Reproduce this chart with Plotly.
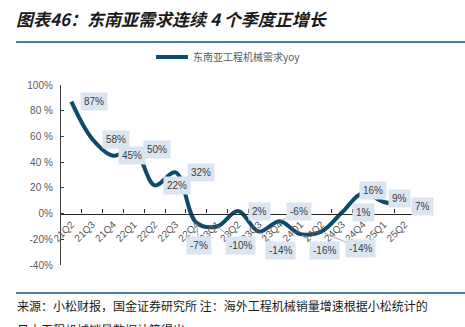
import plotly.graph_objects as go

quarters = ["21Q2", "21Q3", "21Q4", "22Q1", "22Q2", "22Q3", "22Q4", "23Q1", "23Q2",
            "23Q3", "23Q4", "24Q1", "24Q2", "24Q3", "24Q4", "25Q1", "25Q2"]
yoy = [87, 58, 45, 50, 22, 32, -7, -10, 2, -14, -6, -16, -14, 1, 16, 9, 7]
series_name = "东南亚工程机械需求yoy"
y_ticks = [-40, -20, 0, 20, 40, 60, 80, 100]
y_tick_labels = ["-40%", "-20%", "0%", "20 %", "40 %", "60 %", "80 %", "100%"]

# label offsets in pixels (dx right, dy down) and whether a leader line is drawn
label_dx = [23, 24, 19, 23, 22, 25, 3, 23, 21, 22, 19, 24, 39, 21, 10, 16, 18]
label_dy = [0, 0, 0, 0, 0, 0, 23, 19, 0, 19, -10, 16, 17, 0, -3, -4, 2]
leader = [False, False, False, False, False, False, True, True, False, True, True,
          True, True, False, False, False, False]

W, H = 465, 327
L, R, T, B = 61, 50, 85, 62
pw, ph = W - L - R, H - T - B


def px(x):
    return (x - L) / pw


def py(y):
    return (H - B - y) / ph


fig = go.Figure()
fig.add_trace(go.Scatter(
    x=quarters, y=yoy, mode="lines", name=series_name,
    line=dict(color="#0d4a6c", width=4, shape="spline", smoothing=1.0),
))

annotations = []
for q, v, dx, dy, ld in zip(quarters, yoy, label_dx, label_dy, leader):
    common = dict(x=q, y=v, xref="x", yref="y", text=f"{v}%",
                  font=dict(family="Liberation Sans, Arial", size=10, color="#404040"),
                  bgcolor="#dbe5f1", borderpad=3)
    if ld:
        annotations.append(dict(**common, showarrow=True, ax=dx, ay=dy, arrowhead=0,
                                arrowwidth=1, arrowcolor="#a6a6a6", standoff=2))
    else:
        annotations.append(dict(**common, showarrow=False, xshift=dx, yshift=-dy))

annotations.append(dict(
    x=px(14), y=py(18), xref="paper", yref="paper", xanchor="left", yanchor="middle",
    text="<b><i>图表46：东南亚需求连续 4 个季度正增长</i></b>", showarrow=False,
    font=dict(family="Noto Sans CJK SC", size=17, color="#1a1a1a")))
annotations.append(dict(
    x=px(15), y=py(305), xref="paper", yref="paper", xanchor="left", yanchor="middle",
    text="来源：小松财报，国金证券研究所 注：海外工程机械销量增速根据小松统计的",
    showarrow=False, font=dict(family="Noto Sans CJK SC", size=12, color="#1a1a1a")))
annotations.append(dict(
    x=px(15), y=py(329), xref="paper", yref="paper", xanchor="left", yanchor="middle",
    text="日本工程机械销量数据计算得出",
    showarrow=False, font=dict(family="Noto Sans CJK SC", size=12, color="#1a1a1a")))

shapes = [
    dict(type="line", xref="paper", yref="paper", x0=px(16), x1=px(465),
         y0=py(42), y1=py(42), line=dict(color="#4f7f9e", width=2)),
    dict(type="line", xref="paper", yref="paper", x0=px(16), x1=px(465),
         y0=py(293), y1=py(293), line=dict(color="#4f7f9e", width=2)),
]

fig.update_layout(
    width=W, height=H,
    margin=dict(l=L, r=R, t=T, b=B, autoexpand=False),
    paper_bgcolor="white", plot_bgcolor="white",
    showlegend=True,
    legend=dict(x=px(151), y=py(57), xanchor="left", yanchor="middle",
                font=dict(family="Noto Sans CJK SC", size=10, color="#595959"),
                itemwidth=32, bgcolor="rgba(0,0,0,0)", borderwidth=0),
    annotations=annotations,
    shapes=shapes,
    xaxis=dict(
        type="category", range=[-0.5, len(quarters) - 0.5],
        anchor="free", position=40 / 140,
        showline=True, linecolor="#262626", linewidth=1.2,
        ticks="inside", ticklen=4, tickcolor="#262626", tickson="boundaries",
        tickangle=-45, showgrid=False, zeroline=False,
        tickfont=dict(family="Liberation Sans, Arial", size=10, color="#595959"),
    ),
    yaxis=dict(
        range=[-40, 100], tickvals=y_ticks, ticktext=y_tick_labels,
        showline=True, linecolor="#404040", linewidth=1.2,
        ticks="inside", ticklen=3, tickcolor="#404040",
        ticklabelstandoff=5,
        showgrid=False, zeroline=False,
        tickfont=dict(family="Liberation Sans, Arial", size=10, color="#595959"),
    ),
)

fig.write_html("out.html")
